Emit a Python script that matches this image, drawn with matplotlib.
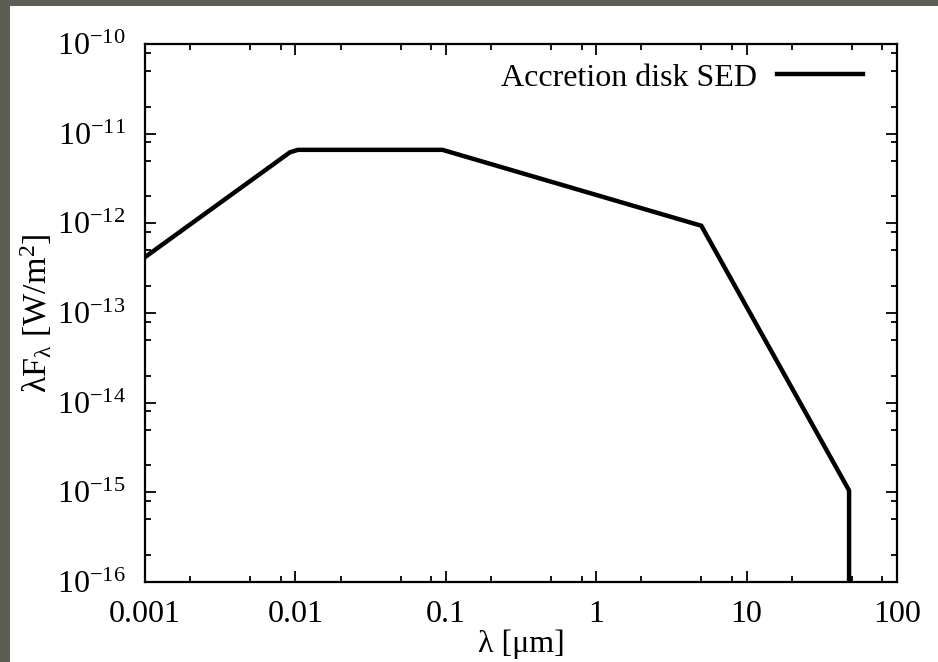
import math
import matplotlib
matplotlib.use("Agg")
import matplotlib.pyplot as plt
from matplotlib.patches import Rectangle
from matplotlib.ticker import LogLocator, FixedLocator, NullFormatter, FuncFormatter

plt.rcParams['font.family'] = ['Liberation Serif', 'DejaVu Serif']
plt.rcParams['mathtext.fontset'] = 'custom'
plt.rcParams['mathtext.rm'] = 'Liberation Serif'
plt.rcParams['mathtext.it'] = 'Liberation Serif:italic'

# Piecewise power-law SED of the accretion disk
wavelength_um = [0.001, 0.0092, 0.0104, 0.095, 5.0, 48.0, 48.0]
lambda_F = [4.2e-13, 6.2e-12, 6.6e-12, 6.6e-12, 9.4e-13, 1.05e-15, 1e-17]
series_label = "Accretion disk SED"

x_ticks = [0.001, 0.01, 0.1, 1, 10, 100]
x_tick_labels = ["0.001", "0.01", "0.1", "1", "10", "100"]
y_exponents = [-16, -15, -14, -13, -12, -11, -10]

FS = 23

fig = plt.figure(figsize=(9.38, 6.62), dpi=100)
fig.patch.set_facecolor("white")
# grey frame strips on the top and left edges
fig.patches.append(Rectangle((0, 0), 10 / 938, 1, transform=fig.transFigure,
                             facecolor="#5d5e52", edgecolor="none", zorder=0))
fig.patches.append(Rectangle((0, 1 - 6 / 662), 1, 6 / 662, transform=fig.transFigure,
                             facecolor="#5d5e52", edgecolor="none", zorder=0))

ax = fig.add_axes([145 / 938, 1 - 582 / 662, (897 - 145) / 938, (582 - 44) / 662])
ax.plot(wavelength_um, lambda_F, color="black", lw=3.2, label=series_label,
        solid_joinstyle="miter")

ax.set_xscale("log")
ax.set_yscale("log")
ax.set_xlim(0.001, 100)
ax.set_ylim(1e-16, 1e-10)

ax.xaxis.set_major_locator(FixedLocator(x_ticks))
ax.xaxis.set_major_formatter(FuncFormatter(lambda v, p: x_tick_labels[x_ticks.index(v)]
                                           if v in x_ticks else ""))
ax.yaxis.set_major_locator(FixedLocator([10.0 ** e for e in y_exponents]))
ax.yaxis.set_major_formatter(FuncFormatter(
    lambda v, p: r"$\mathregular{10^{%d}}$" % round(math.log10(v))))
for axis in (ax.xaxis, ax.yaxis):
    axis.set_minor_locator(LogLocator(base=10, subs=(2, 5, 8)))
    axis.set_minor_formatter(NullFormatter())

ax.tick_params(which="both", direction="in", top=True, right=True, width=1.3,
               labelsize=FS)
ax.tick_params(axis="x", pad=13)
ax.tick_params(axis="y", pad=14)
ax.tick_params(which="major", length=8)
ax.tick_params(which="minor", length=4)
for s in ax.spines.values():
    s.set_linewidth(1.6)

ax.set_xlabel("λ [μm]", fontsize=FS, labelpad=0)
ax.set_ylabel(r"λF$_\mathregular{λ}$ [W/m$^\mathregular{2}$]", fontsize=24.5, labelpad=2)

ax.legend(loc="upper right", frameon=False, markerfirst=False, fontsize=FS,
          handlelength=2.7, handletextpad=0.6, borderaxespad=0.2,
          bbox_to_anchor=(0.98, 1.0))

fig.savefig("out.png", dpi=100)
